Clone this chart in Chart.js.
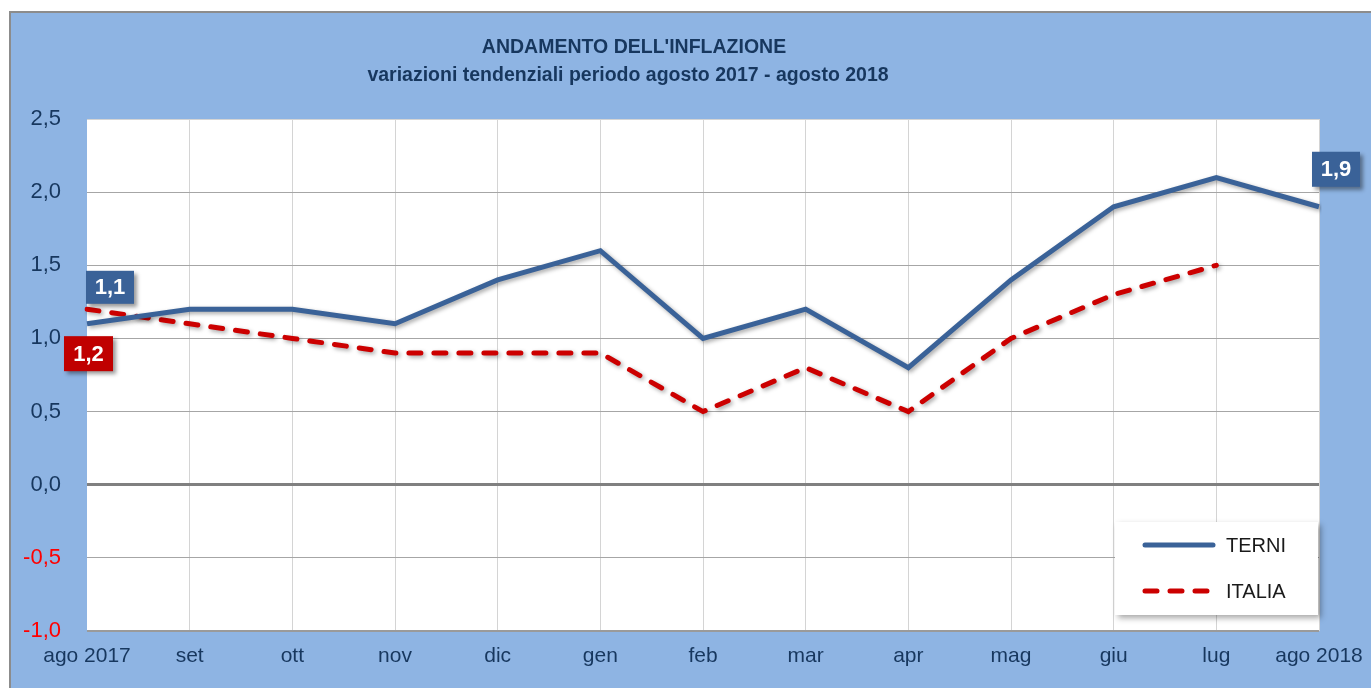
<!DOCTYPE html>
<html>
<head>
<meta charset="utf-8">
<script src="https://cdn.jsdelivr.net/npm/chart.js@4.4.0/dist/chart.umd.min.js"></script>
<style>
  html, body { margin: 0; padding: 0; background: #fff; }
  #wrap { width: 1371px; height: 688px; }
</style>
</head>
<body>
<div id="wrap"><canvas id="inflChart" width="1371" height="688"></canvas></div>
<script>
const months = ['ago 2017', 'set', 'ott', 'nov', 'dic', 'gen', 'feb', 'mar', 'apr', 'mag', 'giu', 'lug', 'ago 2018'];
const terni = [1.1, 1.2, 1.2, 1.1, 1.4, 1.6, 1.0, 1.2, 0.8, 1.4, 1.9, 2.1, 1.9];
const italia = [1.2, 1.1, 1.0, 0.9, 0.9, 0.9, 0.5, 0.8, 0.5, 1.0, 1.3, 1.5, null];
const titleLines = ["ANDAMENTO DELL'INFLAZIONE", 'variazioni tendenziali periodo agosto 2017 - agosto 2018'];

const FONT = "'Liberation Sans', Arial, sans-serif";
const NAVY = '#17375E';
const BLUE = '#3A6298';
const RED = '#C00000';

const fmt = v => v.toFixed(1).replace('.', ',');

// sfondo, cornice e titolo
const backgroundPlugin = {
  id: 'background',
  beforeDraw(chart) {
    const { ctx, width, height, chartArea } = chart;
    ctx.save();
    ctx.fillStyle = '#fff';
    ctx.fillRect(0, 0, width, height);
    ctx.fillStyle = '#8EB4E3';
    ctx.fillRect(11, 13, width - 11, height - 13);
    ctx.strokeStyle = '#8c8c8c';
    ctx.lineWidth = 2;
    ctx.beginPath();
    ctx.moveTo(10, height);
    ctx.lineTo(10, 12);
    ctx.lineTo(width, 12);
    ctx.stroke();
    ctx.fillStyle = '#fff';
    ctx.fillRect(chartArea.left, chartArea.top, chartArea.right - chartArea.left, chartArea.bottom - chartArea.top);

    ctx.fillStyle = NAVY;
    ctx.font = 'bold 19.5px ' + FONT;
    ctx.textAlign = 'center';
    ctx.textBaseline = 'middle';
    ctx.fillText(titleLines[0], 634, 48);
    ctx.fillText(titleLines[1], 628, 76);
    ctx.restore();
  }
};

// ombra sotto le linee
const shadowPlugin = {
  id: 'lineShadow',
  beforeDatasetDraw(chart) {
    const ctx = chart.ctx;
    ctx.save();
    ctx.shadowColor = 'rgba(0,0,0,0.35)';
    ctx.shadowBlur = 4;
    ctx.shadowOffsetX = 2;
    ctx.shadowOffsetY = 2;
  },
  afterDatasetDraw(chart) {
    chart.ctx.restore();
  }
};

// etichette dei valori e legenda interna
const labelsPlugin = {
  id: 'valueLabels',
  afterDatasetsDraw(chart) {
    const { ctx, chartArea } = chart;
    const drawBox = (text, bg, left, top, w, h) => {
      ctx.save();
      ctx.shadowColor = 'rgba(0,0,0,0.4)';
      ctx.shadowBlur = 4;
      ctx.shadowOffsetX = 3;
      ctx.shadowOffsetY = 3;
      ctx.fillStyle = bg;
      ctx.fillRect(left, top, w, h);
      ctx.restore();
      ctx.save();
      ctx.fillStyle = '#fff';
      ctx.font = 'bold 22px ' + FONT;
      ctx.textAlign = 'center';
      ctx.textBaseline = 'middle';
      ctx.fillText(text, left + w / 2, top + h / 2 + 1);
      ctx.restore();
    };
    const t = chart.getDatasetMeta(0).data;
    const i = chart.getDatasetMeta(1).data;
    const last = terni.length - 1;
    drawBox(fmt(terni[0]), BLUE, t[0].x - 1, t[0].y - 53, 48, 33);
    drawBox(fmt(italia[0]), RED, i[0].x - 23, i[0].y + 27, 49, 35);
    drawBox(fmt(terni[last]), BLUE, t[last].x - 7, t[last].y - 55, 48, 35);

    // legenda
    const lx = chartArea.right - 204, ly = chartArea.bottom - 109;
    ctx.save();
    ctx.shadowColor = 'rgba(0,0,0,0.35)';
    ctx.shadowBlur = 6;
    ctx.shadowOffsetX = 3;
    ctx.shadowOffsetY = 3;
    ctx.fillStyle = '#fff';
    ctx.fillRect(lx, ly, 203, 93);
    ctx.restore();
    chart.data.datasets.forEach((ds, k) => {
      const y = ly + 23 + k * 46;
      ctx.save();
      ctx.strokeStyle = ds.borderColor;
      ctx.lineWidth = 5;
      ctx.lineCap = 'round';
      ctx.setLineDash(ds.borderDash || []);
      ctx.beginPath();
      ctx.moveTo(lx + 30, y);
      ctx.lineTo(lx + 98, y);
      ctx.stroke();
      ctx.restore();
      ctx.save();
      ctx.fillStyle = '#1a1a1a';
      ctx.font = '20px ' + FONT;
      ctx.textBaseline = 'middle';
      ctx.fillText(ds.label, lx + 111, y + 1);
      ctx.restore();
    });
  }
};

new Chart(document.getElementById('inflChart'), {
  type: 'line',
  data: {
    labels: months,
    datasets: [
      {
        label: 'TERNI',
        data: terni,
        borderColor: BLUE,
        borderWidth: 5,
        pointRadius: 0,
        tension: 0
      },
      {
        label: 'ITALIA',
        data: italia,
        borderColor: '#CC0000',
        borderWidth: 5,
        borderDash: [12, 13],
        borderCapStyle: 'round',
        pointRadius: 0,
        tension: 0
      }
    ]
  },
  options: {
    responsive: false,
    animation: false,
    layout: { padding: { top: 119, left: 11, right: 52, bottom: 0 } },
    plugins: {
      legend: { display: false },
      title: { display: false },
      tooltip: { enabled: false }
    },
    scales: {
      x: {
        offset: false,
        afterFit: s => { s.height = 57; s.paddingLeft = 0; s.paddingRight = 0; },
        grid: {
          color: c => c.index === 0 ? 'rgba(0,0,0,0)' : '#d4d4d4',
          lineWidth: 1,
          drawTicks: false
        },
        border: { display: false },
        ticks: {
          color: NAVY,
          font: { family: FONT, size: 21 },
          padding: 13,
          maxRotation: 0,
          autoSkip: false
        }
      },
      y: {
        min: -1,
        max: 2.5,
        afterFit: s => { s.width = 76; },
        grid: {
          color: c => {
            const v = c.tick.value;
            if (v === 0) return '#808080';
            if (v === -1) return '#9a9a9a';
            if (v === 2.5) return '#d4d4d4';
            return '#a6a6a6';
          },
          lineWidth: c => c.tick.value === 0 ? 3 : (c.tick.value === -1 ? 2 : 1),
          drawTicks: false
        },
        border: { display: false },
        ticks: {
          stepSize: 0.5,
          padding: 26,
          color: c => c.tick.value < 0 ? '#FF0000' : NAVY,
          font: { family: FONT, size: 22 },
          callback: v => fmt(v)
        }
      }
    }
  },
  plugins: [backgroundPlugin, shadowPlugin, labelsPlugin]
});
</script>
</body>
</html>
